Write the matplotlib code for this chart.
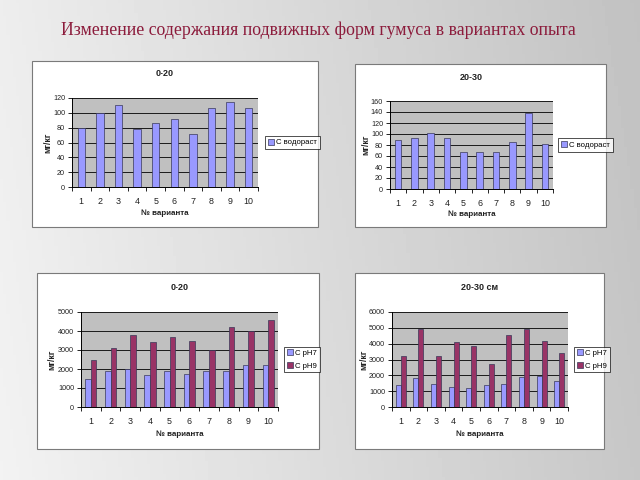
import numpy as np
import matplotlib.pyplot as plt
from matplotlib.patches import Rectangle

plt.rcParams["font.family"] = ["Liberation Sans", "DejaVu Sans"]

# ---- data ----
variants = list(range(1, 11))

# top row: water-soluble C, mg/kg
c_water_0_20 = [80, 100, 110, 78, 86, 92, 72, 106, 115, 107]
c_water_20_30 = [90, 93, 102, 93, 68, 68, 67, 85, 139, 82]

# bottom row: C extracted at pH7 / pH9, mg/kg
c_ph7_0_20 = [1500, 1900, 2000, 1680, 1900, 1750, 1870, 1900, 2220, 2230]
c_ph9_0_20 = [2500, 3100, 3800, 3420, 3700, 3480, 3000, 4200, 4000, 4580]
c_ph7_20_30 = [1400, 1850, 1450, 1280, 1200, 1400, 1450, 1920, 1930, 1650]
c_ph9_20_30 = [3200, 4900, 3200, 4100, 3880, 2700, 4530, 4900, 4200, 3400]

TITLE = "Изменение содержания подвижных форм гумуса в вариантах опыта"
W, H = 640, 480

C1 = "#9999ff"      # excel default series 1
C2 = "#993366"      # excel default series 2
EDGE = "#383858"
PLOT_BG = "#c0c0c0"
TXT = "#222222"
FS = 5.2            # y tick size, the rest is a bit bigger


def fbox(x0, y0, x1, y1):
    """pixel box (top-left origin) -> figure [l, b, w, h]"""
    return [x0 / W, 1 - y1 / H, (x1 - x0) / W, (y1 - y0) / H]


fig = plt.figure(figsize=(6.4, 4.8), dpi=100)

# slide background: soft grey gradient
bg = fig.add_axes([0, 0, 1, 1])
bg.set_zorder(-10)
gx, gy = np.meshgrid(np.linspace(0, 1, 200), np.linspace(0, 1, 150))
shade = 0.93 - 0.17 * gx + 0.02 * gy
bg.imshow(shade, cmap="gray", vmin=0, vmax=1, aspect="auto",
          extent=[0, 1, 0, 1], origin="upper")
bg.set_xlim(0, 1); bg.set_ylim(0, 1)
bg.axis("off")

fig.text(318 / W, 1 - 30 / H, TITLE, ha="center", va="center",
         fontsize=12.8, color="#8c1c3c", family="Liberation Serif")

# white chart panels
panels = [(32, 61, 318, 227), (355, 64, 606, 227),
          (37, 273, 319, 449), (355, 273, 604, 449)]
for x0, y0, x1, y1 in panels:
    l, b, w, h = fbox(x0, y0, x1, y1)
    fig.add_artist(Rectangle((l, b), w, h, transform=fig.transFigure,
                             facecolor="white", edgecolor="#7a7a7a",
                             lw=0.8, zorder=-5))


def excel_chart(plot_px, title, title_y, series, labels, ymax, ystep,
                leg_x, xlab_y, ylab_x):
    x0, y0, x1, y1 = plot_px
    ax = fig.add_axes(fbox(x0, y0, x1, y1))
    ax.set_facecolor(PLOT_BG)
    n = len(series)
    width = 1 / (n + 1.5)
    x = np.array(variants, dtype=float)
    for i, (vals, col, lab) in enumerate(zip(series, [C1, C2], labels)):
        off = (i - (n - 1) / 2) * width
        ax.bar(x + off, vals, width, color=col, edgecolor=EDGE, lw=0.5,
               label=lab, zorder=3)
    ax.set_xlim(0.5, 10.5)
    ax.set_ylim(0, ymax)
    ax.set_yticks(np.arange(0, ymax + 1, ystep))
    ax.yaxis.grid(True, color="black", lw=0.6, zorder=1)
    ax.set_axisbelow(True)
    for s in ["top", "right"]:
        ax.spines[s].set_visible(False)
    for s in ["left", "bottom"]:
        ax.spines[s].set_color("black")
        ax.spines[s].set_linewidth(0.7)
    ax.set_xticks(variants)
    ax.set_xticks(np.arange(0.5, 11, 1), minor=True)
    ax.tick_params(axis="x", which="major", length=0, pad=7,
                   labelsize=FS + 1.2, labelcolor=TXT)
    ax.tick_params(axis="x", which="minor", length=3, width=0.6,
                   direction="out")
    ax.tick_params(axis="y", length=3, width=0.6, labelsize=FS,
                   labelcolor=TXT, pad=2)

    cx = (x0 + x1) / 2
    fig.text(cx / W, 1 - title_y / H, title, ha="center", va="center",
             fontsize=FS + 1.3, fontweight="bold", color=TXT)
    fig.text(cx / W, 1 - xlab_y / H, "№ варианта", ha="center",
             va="center", fontsize=FS + 0.6, fontweight="bold", color=TXT)
    fig.text(ylab_x / W, 1 - ((y0 + y1) / 2) / H, "мг/кг", ha="center",
             va="center", rotation=90, fontsize=FS + 1.0, fontweight="bold",
             color=TXT)

    leg = ax.legend(loc="center left",
                    bbox_to_anchor=((leg_x - x0) / (x1 - x0), 0.5),
                    fontsize=FS + 0.4, frameon=True, fancybox=False,
                    handlelength=0.8, handleheight=0.8, handletextpad=0.3,
                    borderpad=0.35, labelspacing=0.6, borderaxespad=0)
    leg.get_frame().set_edgecolor("black")
    leg.get_frame().set_linewidth(0.6)
    return ax


excel_chart((72, 98, 258, 187), "0-20", 74, [c_water_0_20],
            ["С водораст"], 120, 20, 265, 213, 48)
excel_chart((390, 101, 553, 189), "20-30", 78, [c_water_20_30],
            ["С водораст"], 160, 20, 558, 214, 366)
excel_chart((81, 312, 278, 407), "0-20", 287, [c_ph7_0_20, c_ph9_0_20],
            ["С pH7", "С pH9"], 5000, 1000, 284, 434, 52)
excel_chart((392, 312, 568, 407), "20-30 см", 287, [c_ph7_20_30, c_ph9_20_30],
            ["С pH7", "С pH9"], 6000, 1000, 574, 434, 364)

fig.savefig("out.png", dpi=100)
